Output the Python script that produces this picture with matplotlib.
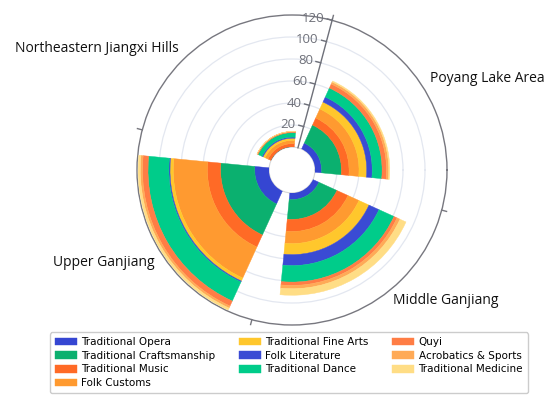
import matplotlib
matplotlib.use("Agg")
import matplotlib.pyplot as plt
import numpy as np

# regions, clockwise from the radial axis
regions = ["Poyang Lake Area", "Middle Ganjiang", "Upper Ganjiang", "Northeastern Jiangxi Hills"]

# counts per region (same order as regions)
opera = [6, 6, 13, 0]
craftsmanship = [18, 18, 31, 0]
music = [7, 11, 12, 3]
folk_customs = [9, 11, 31, 3]
fine_arts = [7, 10, 3, 2]
folk_literature = [5, 10, 1, 1]
dance = [9, 15, 19, 4]
quyi = [4, 3, 5, 1]
acrobatics = [2, 3, 2, 0]
medicine = [1, 6, 2, 0]

series_names = ["Traditional Opera", "Traditional Craftsmanship", "Traditional Music",
                "Folk Customs", "Traditional Fine Arts", "Folk Literature",
                "Traditional Dance", "Quyi", "Acrobatics & Sports", "Traditional Medicine"]
series_values = [opera, craftsmanship, music, folk_customs, fine_arts, folk_literature,
                 dance, quyi, acrobatics, medicine]
colors = ["#3546d2", "#0bb06f", "#ff6a26", "#ff9a30", "#ffc72c", "#3a4bd4",
          "#00cc8a", "#ff7d45", "#ffaa57", "#ffdd85"]

radial_ticks = [20, 40, 60, 80, 100, 120]

W, H = 550, 409
fig = plt.figure(figsize=(W / 100, H / 100), dpi=100)
cx, cy, R = 292, 170, 155      # centre and outer radius in pixels
hole = 23                      # hole radius in pixels
rmax = 120
rorig = -hole * rmax / (R - hole)
px_per_unit = (R - hole) / rmax

ax = fig.add_axes([(cx - R) / W, (H - cy - R) / H, 2 * R / W, 2 * R / H], projection="polar")
ax.set_ylim(0, rmax)
ax.set_rorigin(rorig)

start = 75.0
step = 360.0 / len(regions)
theta = np.deg2rad([start - step / 2 - step * i for i in range(len(regions))])
width = np.deg2rad(71)

bottom = np.zeros(len(regions))
for name, vals, c in zip(series_names, series_values, colors):
    vals = np.array(vals, dtype=float)
    ax.bar(theta, vals, width=width, bottom=bottom, color=c, edgecolor=c,
           linewidth=0.3, label=name, zorder=3)
    bottom += vals

# grid & spines
ax.set_yticks(radial_ticks[:-1])
ax.set_yticklabels([])
ax.yaxis.grid(True, color="#e3e7f0", linewidth=0.9)
ax.set_xticks([])
ax.xaxis.grid(False)
ax.spines["polar"].set_color("#77777f")
ax.spines["polar"].set_linewidth(1.0)
ax.spines["inner"].set_color("#d6d6d6")
ax.spines["inner"].set_linewidth(0.8)

axis_col = "#6e7079"
a0 = np.deg2rad(start)
# radial axis line
ax.plot([a0, a0], [0, rmax + 1], color=axis_col, lw=1.0, zorder=6, clip_on=False)


def to_data(rpx):
    return rpx / px_per_unit + rorig


for v in radial_ticks:
    rpx = hole + v * px_per_unit
    for L, kind in [(5, "tick"), (8, "label")]:
        rr = np.hypot(rpx, L)
        aa = a0 + np.arctan2(L, rpx)
        if kind == "tick":
            ax.plot([a0, aa], [v, to_data(rr)], color=axis_col, lw=1.0, zorder=6, clip_on=False)
        else:
            ax.text(aa, to_data(rr), str(v), ha="right", va="center", color=axis_col,
                    fontsize=9.5, family="Open Sans", zorder=7)

# category boundary ticks on the outer circle
for i in range(len(regions)):
    a = np.deg2rad(start - step * i)
    ax.plot([a, a], [rmax, rmax + 5 / px_per_unit], color="#77777f", lw=1.0, clip_on=False)

# category labels
label_pos = [(487, 79), (446, 301), (104, 263), (97, 48)]
for name, (x, y) in zip(regions, label_pos):
    fig.text(x / W, 1 - y / H, name, ha="center", va="center", fontsize=10,
             family="Open Sans", color="#111111")

fig.legend(loc="lower center", bbox_to_anchor=(289 / W, 11 / H), ncol=3, fontsize=7.5,
           handlelength=2.1, handleheight=0.75, handletextpad=0.4, columnspacing=2.3,
           labelspacing=0.35, borderpad=0.45, frameon=True, edgecolor="#cccccc",
           fancybox=True, framealpha=1)

fig.savefig("out.png", dpi=100)
